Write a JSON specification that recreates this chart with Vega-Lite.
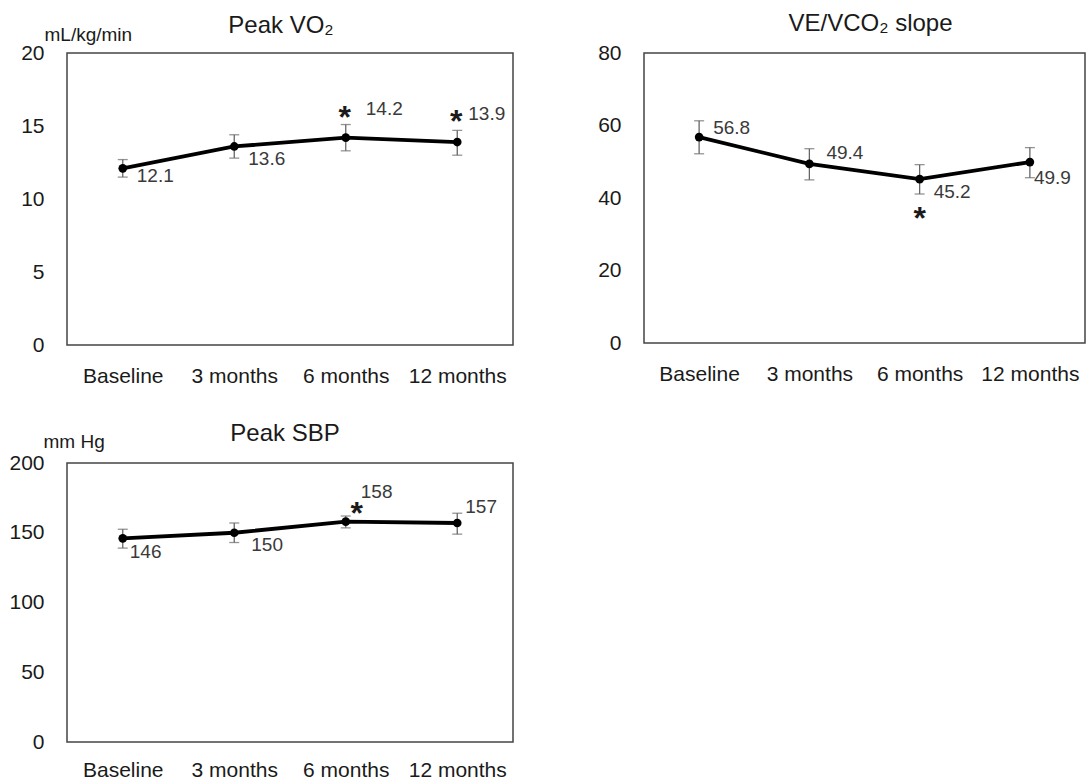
{
  "$schema": "https://vega.github.io/schema/vega-lite/v6.json",
  "padding": {"left": 8, "top": 11, "right": 0, "bottom": 0},
  "background": "white",
  "config": {
    "font": "Liberation Sans",
    "view": {"stroke": "#444", "strokeWidth": 1.5},
    "axis": {"ticks": false, "domain": false, "grid": false, "labelFontSize": 21, "labelColor": "#1a1a1a", "titleFontWeight": "normal", "titleColor": "#1a1a1a"},
    "axisX": {"labelPadding": 20, "labelAngle": 0},
    "axisY": {"labelPadding": 23},
    "title": {"fontSize": 24, "fontWeight": "normal", "color": "#1a1a1a", "anchor": "middle", "frame": "group"}
  },
  "datasets": {
    "vo2": [
      {"time": "Baseline", "mean": 12.1, "lo": 11.5, "hi": 12.7, "sig": ""},
      {"time": "3 months", "mean": 13.6, "lo": 12.8, "hi": 14.4, "sig": ""},
      {"time": "6 months", "mean": 14.2, "lo": 13.3, "hi": 15.1, "sig": "*"},
      {"time": "12 months", "mean": 13.9, "lo": 13.0, "hi": 14.7, "sig": "*"}
    ],
    "ve": [
      {"time": "Baseline", "mean": 56.8, "lo": 52.2, "hi": 61.3, "sig": ""},
      {"time": "3 months", "mean": 49.4, "lo": 45.0, "hi": 53.6, "sig": ""},
      {"time": "6 months", "mean": 45.2, "lo": 41.1, "hi": 49.2, "sig": "*"},
      {"time": "12 months", "mean": 49.9, "lo": 45.6, "hi": 53.9, "sig": ""}
    ],
    "sbp": [
      {"time": "Baseline", "mean": 146, "lo": 139, "hi": 152.5, "sig": ""},
      {"time": "3 months", "mean": 150, "lo": 143, "hi": 157, "sig": ""},
      {"time": "6 months", "mean": 158, "lo": 153.5, "hi": 162, "sig": "*"},
      {"time": "12 months", "mean": 157, "lo": 149, "hi": 164, "sig": ""}
    ]
  },
  "columns": 2,
  "spacing": {"row": 118, "column": 131},
  "bounds": "flush",
  "concat": [
    {
      "width": 446, "height": 292,
      "title": {"text": "Peak VO₂", "offset": -13, "dx": -9},
      "data": {"name": "vo2"},
      "encoding": {
        "x": {"field": "time", "type": "nominal", "sort": ["Baseline", "3 months", "6 months", "12 months"], "scale": {"type": "point", "padding": 0.5}, "axis": {"title": null}}
      },
      "layer": [
        {"mark": {"type": "rule", "color": "#666", "strokeWidth": 1.3},
         "encoding": {"y": {"field": "lo", "type": "quantitative", "scale": {"domain": [0, 20], "nice": false}, "axis": {"values": [0, 5, 10, 15, 20], "title": "mL/kg/min", "titleAngle": 0, "titleAlign": "left", "titleBaseline": "middle", "titleX": -23, "titleY": -19, "titleFontSize": 19}}, "y2": {"field": "hi"}}},
        {"mark": {"type": "tick", "color": "#666", "size": 10, "thickness": 1.3, "orient": "horizontal"},
         "encoding": {"y": {"field": "lo", "type": "quantitative"}}},
        {"mark": {"type": "tick", "color": "#666", "size": 10, "thickness": 1.3, "orient": "horizontal"},
         "encoding": {"y": {"field": "hi", "type": "quantitative"}}},
        {"mark": {"type": "line", "color": "#000", "strokeWidth": 3.8},
         "encoding": {"y": {"field": "mean", "type": "quantitative"}}},
        {"mark": {"type": "point", "filled": true, "color": "#000", "size": 75, "opacity": 1},
         "encoding": {"y": {"field": "mean", "type": "quantitative"}}},
        {"transform": [{"filter": "datum.time == 'Baseline'"}],
         "mark": {"type": "text", "align": "left", "baseline": "middle", "dx": 14, "dy": 8, "fontSize": 19, "color": "#3a3a3a"},
         "encoding": {"y": {"field": "mean", "type": "quantitative"}, "text": {"field": "mean", "type": "quantitative", "format": ".1f"}}},
        {"transform": [{"filter": "datum.time == '3 months'"}],
         "mark": {"type": "text", "align": "left", "baseline": "middle", "dx": 14, "dy": 13, "fontSize": 19, "color": "#3a3a3a"},
         "encoding": {"y": {"field": "mean", "type": "quantitative"}, "text": {"field": "mean", "type": "quantitative", "format": ".1f"}}},
        {"transform": [{"filter": "datum.time == '6 months'"}],
         "mark": {"type": "text", "align": "left", "baseline": "middle", "dx": 20, "dy": -29, "fontSize": 19, "color": "#3a3a3a"},
         "encoding": {"y": {"field": "mean", "type": "quantitative"}, "text": {"field": "mean", "type": "quantitative", "format": ".1f"}}},
        {"transform": [{"filter": "datum.time == '12 months'"}],
         "mark": {"type": "text", "align": "left", "baseline": "middle", "dx": 11, "dy": -28, "fontSize": 19, "color": "#3a3a3a"},
         "encoding": {"y": {"field": "mean", "type": "quantitative"}, "text": {"field": "mean", "type": "quantitative", "format": ".1f"}}},
        {"transform": [{"filter": "datum.sig == '*'"}],
         "mark": {"type": "text", "align": "center", "baseline": "middle", "dx": -1, "dy": -20, "fontSize": 32, "fontWeight": "bold", "color": "#1a1a1a"},
         "encoding": {"y": {"field": "mean", "type": "quantitative"}, "text": {"field": "sig"}}}
      ]
    },
    {
      "width": 441, "height": 290,
      "title": {"text": "VE/VCO₂ slope", "offset": 6, "dx": 6},
      "data": {"name": "ve"},
      "encoding": {
        "x": {"field": "time", "type": "nominal", "sort": ["Baseline", "3 months", "6 months", "12 months"], "scale": {"type": "point", "padding": 0.5}, "axis": {"title": null}}
      },
      "layer": [
        {"mark": {"type": "rule", "color": "#666", "strokeWidth": 1.3},
         "encoding": {"y": {"field": "lo", "type": "quantitative", "scale": {"domain": [0, 80], "nice": false}, "axis": {"values": [0, 20, 40, 60, 80], "title": null}}, "y2": {"field": "hi"}}},
        {"mark": {"type": "tick", "color": "#666", "size": 10, "thickness": 1.3, "orient": "horizontal"},
         "encoding": {"y": {"field": "lo", "type": "quantitative"}}},
        {"mark": {"type": "tick", "color": "#666", "size": 10, "thickness": 1.3, "orient": "horizontal"},
         "encoding": {"y": {"field": "hi", "type": "quantitative"}}},
        {"mark": {"type": "line", "color": "#000", "strokeWidth": 3.8},
         "encoding": {"y": {"field": "mean", "type": "quantitative"}}},
        {"mark": {"type": "point", "filled": true, "color": "#000", "size": 75, "opacity": 1},
         "encoding": {"y": {"field": "mean", "type": "quantitative"}}},
        {"transform": [{"filter": "datum.time == 'Baseline'"}],
         "mark": {"type": "text", "align": "left", "baseline": "middle", "dx": 14, "dy": -9, "fontSize": 19, "color": "#3a3a3a"},
         "encoding": {"y": {"field": "mean", "type": "quantitative"}, "text": {"field": "mean", "type": "quantitative", "format": ".1f"}}},
        {"transform": [{"filter": "datum.time == '3 months'"}],
         "mark": {"type": "text", "align": "left", "baseline": "middle", "dx": 17, "dy": -11, "fontSize": 19, "color": "#3a3a3a"},
         "encoding": {"y": {"field": "mean", "type": "quantitative"}, "text": {"field": "mean", "type": "quantitative", "format": ".1f"}}},
        {"transform": [{"filter": "datum.time == '6 months'"}],
         "mark": {"type": "text", "align": "left", "baseline": "middle", "dx": 14, "dy": 13, "fontSize": 19, "color": "#3a3a3a"},
         "encoding": {"y": {"field": "mean", "type": "quantitative"}, "text": {"field": "mean", "type": "quantitative", "format": ".1f"}}},
        {"transform": [{"filter": "datum.time == '12 months'"}],
         "mark": {"type": "text", "align": "left", "baseline": "middle", "dx": 4, "dy": 16, "fontSize": 19, "color": "#3a3a3a"},
         "encoding": {"y": {"field": "mean", "type": "quantitative"}, "text": {"field": "mean", "type": "quantitative", "format": ".1f"}}},
        {"transform": [{"filter": "datum.sig == '*'"}],
         "mark": {"type": "text", "align": "center", "baseline": "middle", "dx": 0, "dy": 40, "fontSize": 32, "fontWeight": "bold", "color": "#1a1a1a"},
         "encoding": {"y": {"field": "mean", "type": "quantitative"}, "text": {"field": "sig"}}}
      ]
    },
    {
      "width": 446, "height": 279,
      "title": {"text": "Peak SBP", "offset": -14, "dx": -5},
      "data": {"name": "sbp"},
      "encoding": {
        "x": {"field": "time", "type": "nominal", "sort": ["Baseline", "3 months", "6 months", "12 months"], "scale": {"type": "point", "padding": 0.5}, "axis": {"title": null, "labelPadding": 17}}
      },
      "layer": [
        {"mark": {"type": "rule", "color": "#666", "strokeWidth": 1.3},
         "encoding": {"y": {"field": "lo", "type": "quantitative", "scale": {"domain": [0, 200], "nice": false}, "axis": {"values": [0, 50, 100, 150, 200], "title": "mm Hg", "titleAngle": 0, "titleAlign": "left", "titleBaseline": "middle", "titleX": -24, "titleY": -22, "titleFontSize": 19}}, "y2": {"field": "hi"}}},
        {"mark": {"type": "tick", "color": "#666", "size": 10, "thickness": 1.3, "orient": "horizontal"},
         "encoding": {"y": {"field": "lo", "type": "quantitative"}}},
        {"mark": {"type": "tick", "color": "#666", "size": 10, "thickness": 1.3, "orient": "horizontal"},
         "encoding": {"y": {"field": "hi", "type": "quantitative"}}},
        {"mark": {"type": "line", "color": "#000", "strokeWidth": 3.8},
         "encoding": {"y": {"field": "mean", "type": "quantitative"}}},
        {"mark": {"type": "point", "filled": true, "color": "#000", "size": 75, "opacity": 1},
         "encoding": {"y": {"field": "mean", "type": "quantitative"}}},
        {"transform": [{"filter": "datum.time == 'Baseline'"}],
         "mark": {"type": "text", "align": "left", "baseline": "middle", "dx": 7, "dy": 14, "fontSize": 19, "color": "#3a3a3a"},
         "encoding": {"y": {"field": "mean", "type": "quantitative"}, "text": {"field": "mean", "type": "quantitative", "format": "d"}}},
        {"transform": [{"filter": "datum.time == '3 months'"}],
         "mark": {"type": "text", "align": "left", "baseline": "middle", "dx": 17, "dy": 12, "fontSize": 19, "color": "#3a3a3a"},
         "encoding": {"y": {"field": "mean", "type": "quantitative"}, "text": {"field": "mean", "type": "quantitative", "format": "d"}}},
        {"transform": [{"filter": "datum.time == '6 months'"}],
         "mark": {"type": "text", "align": "left", "baseline": "middle", "dx": 15, "dy": -30, "fontSize": 19, "color": "#3a3a3a"},
         "encoding": {"y": {"field": "mean", "type": "quantitative"}, "text": {"field": "mean", "type": "quantitative", "format": "d"}}},
        {"transform": [{"filter": "datum.time == '12 months'"}],
         "mark": {"type": "text", "align": "left", "baseline": "middle", "dx": 8, "dy": -16, "fontSize": 19, "color": "#3a3a3a"},
         "encoding": {"y": {"field": "mean", "type": "quantitative"}, "text": {"field": "mean", "type": "quantitative", "format": "d"}}},
        {"transform": [{"filter": "datum.sig == '*'"}],
         "mark": {"type": "text", "align": "center", "baseline": "middle", "dx": 11, "dy": -8, "fontSize": 32, "fontWeight": "bold", "color": "#1a1a1a"},
         "encoding": {"y": {"field": "mean", "type": "quantitative"}, "text": {"field": "sig"}}}
      ]
    }
  ]
}
